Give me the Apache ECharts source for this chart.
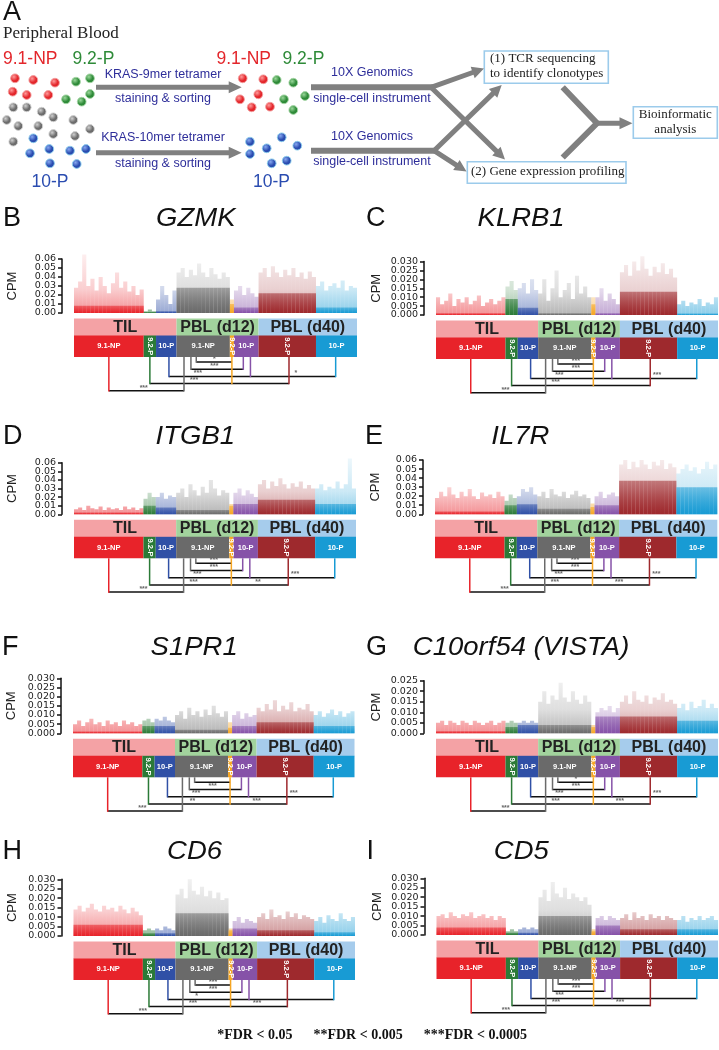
<!DOCTYPE html>
<html><head><meta charset="utf-8">
<script src="https://cdn.jsdelivr.net/npm/echarts@6/dist/echarts.min.js"></script>
<style>html,body{margin:0;padding:0;background:#fff}#c{width:719px;height:1050px}</style>
</head><body><div id="c"></div>
<script>
// ================= DATA =================
const SEGMENTS = ['TIL 9.1-NP','TIL 9.2-P','TIL 10-P','PBL(d12) 9.1-NP','PBL(d12) 9.2-P','PBL(d12) 10-P','PBL(d40) 9.2-P','PBL(d40) 10-P'];
const SEG_SHORT = ['9.1-NP','9.2-P','10-P','9.1-NP','9.2-P','10-P','9.2-P','10-P'];
const GROUP_NAMES = ['TIL','PBL (d12)','PBL (d40)'];
const GENES = ['GZMK','KLRB1','ITGB1','IL7R','S1PR1','C10orf54 (VISTA)','CD6','CD5'];
const PANEL_LETTERS = ['B','C','D','E','F','G','H','I'];
const Y_MAX = [0.06,0.03,0.06,0.06,0.03,0.025,0.03,0.03];
const Y_STEP = [0.01,0.005,0.01,0.01,0.005,0.005,0.005,0.005];
const Y_DEC = [2,3,2,2,3,3,3,3];
const FOOTNOTE = '*FDR < 0.05      **FDR < 0.005      ***FDR < 0.0005';

// per-cell expression (CPM), grouped by segment
const GZMK_CELLS = [
 [0.028,0.035,0.065,0.030,0.038,0.025,0.040,0.030,0.022,0.033,0.045,0.028,0.035,0.024,0.030,0.020,0.026],
 [0.002,0.004,0.002],
 [0.015,0.030,0.020,0.010,0.025],
 [0.045,0.050,0.040,0.048,0.042,0.055,0.045,0.040,0.050,0.043,0.038,0.045,0.040],
 [0.015],
 [0.025,0.030,0.020,0.028,0.022,0.018],
 [0.045,0.050,0.040,0.052,0.045,0.040,0.048,0.042,0.050,0.040,0.045,0.038,0.046,0.040],
 [0.030,0.035,0.025,0.030,0.033,0.028,0.036,0.025,0.030,0.028]];
const GZMK_CORE = [0.008,0.001,0.002,0.028,0.010,0.006,0.022,0.006];

const KLRB1_CELLS = [
 [0.010,0.006,0.008,0.012,0.005,0.009,0.007,0.010,0.006,0.008,0.011,0.005,0.007,0.009,0.006,0.008,0.010],
 [0.016,0.019,0.014],
 [0.015,0.018,0.012,0.020,0.014],
 [0.012,0.020,0.008,0.015,0.025,0.010,0.014,0.018,0.009,0.022,0.012,0.016,0.010],
 [0.010],
 [0.010,0.015,0.008,0.012,0.009,0.006],
 [0.024,0.028,0.022,0.030,0.025,0.033,0.026,0.022,0.027,0.024,0.029,0.023,0.026,0.021],
 [0.006,0.008,0.005,0.007,0.006,0.009,0.005,0.007,0.006,0.010]];
const KLRB1_CORE = [0.001,0.009,0.004,0.001,0.006,0.001,0.013,0.0008];

const ITGB1_CELLS = [
 [0.006,0.008,0.005,0.010,0.007,0.006,0.009,0.005,0.008,0.006,0.007,0.005,0.009,0.006,0.008,0.005,0.007],
 [0.018,0.025,0.020],
 [0.020,0.025,0.018,0.022,0.020],
 [0.025,0.030,0.020,0.035,0.028,0.022,0.032,0.025,0.040,0.030,0.022,0.028,0.025],
 [0.012],
 [0.025,0.030,0.022,0.028,0.024,0.020],
 [0.035,0.040,0.030,0.038,0.033,0.042,0.035,0.030,0.036,0.032,0.038,0.030,0.034,0.030],
 [0.030,0.035,0.028,0.032,0.030,0.038,0.030,0.035,0.065,0.030]];
const ITGB1_CORE = [0.002,0.010,0.008,0.005,0.010,0.012,0.017,0.012];

const IL7R_CELLS = [
 [0.018,0.025,0.020,0.030,0.022,0.018,0.025,0.020,0.028,0.020,0.017,0.024,0.020,0.022,0.018,0.025,0.020],
 [0.015,0.022,0.018],
 [0.020,0.028,0.025,0.030,0.022],
 [0.020,0.025,0.018,0.028,0.022,0.020,0.025,0.018,0.022,0.026,0.020,0.022,0.018],
 [0.012],
 [0.020,0.025,0.018,0.022,0.024,0.020],
 [0.055,0.060,0.050,0.058,0.052,0.060,0.055,0.050,0.058,0.054,0.060,0.050,0.056,0.052],
 [0.045,0.050,0.055,0.048,0.052,0.045,0.050,0.058,0.050,0.055]];
const IL7R_CORE = [0.003,0.010,0.011,0.006,0.008,0.010,0.037,0.030];

const S1PR1_CELLS = [
 [0.005,0.007,0.004,0.006,0.008,0.005,0.006,0.004,0.007,0.005,0.006,0.004,0.007,0.005,0.006,0.004,0.005],
 [0.007,0.008,0.006],
 [0.008,0.007,0.009,0.007,0.006],
 [0.010,0.012,0.008,0.014,0.010,0.012,0.009,0.013,0.010,0.015,0.011,0.009,0.012],
 [0.006],
 [0.010,0.012,0.008,0.011,0.009,0.010],
 [0.014,0.012,0.016,0.013,0.018,0.012,0.015,0.013,0.017,0.012,0.014,0.013,0.016,0.012],
 [0.010,0.012,0.009,0.011,0.013,0.010,0.012,0.009,0.011,0.012]];
const S1PR1_CORE = [0.001,0.004,0.004,0.002,0.003,0.004,0.006,0.004];

const VISTA_CELLS = [
 [0.005,0.006,0.004,0.006,0.005,0.004,0.006,0.005,0.004,0.006,0.005,0.004,0.005,0.006,0.004,0.005,0.006],
 [0.005,0.006,0.005],
 [0.005,0.006,0.005,0.006,0.005],
 [0.015,0.020,0.014,0.018,0.016,0.024,0.017,0.015,0.020,0.016,0.014,0.018,0.015],
 [0.004],
 [0.010,0.012,0.011,0.013,0.010,0.012],
 [0.015,0.018,0.014,0.020,0.016,0.015,0.018,0.014,0.017,0.016,0.019,0.015,0.016,0.014],
 [0.012,0.014,0.011,0.015,0.012,0.013,0.016,0.012,0.014,0.012]];
const VISTA_CORE = [0.001,0.003,0.004,0.004,0.003,0.008,0.008,0.006];

const CD6_CELLS = [
 [0.014,0.016,0.013,0.015,0.017,0.014,0.013,0.016,0.014,0.015,0.013,0.016,0.014,0.012,0.015,0.013,0.011],
 [0.003,0.004,0.003],
 [0.004,0.003,0.005,0.004,0.003],
 [0.022,0.025,0.020,0.030,0.024,0.022,0.026,0.021,0.024,0.020,0.023,0.019,0.020],
 [0.004],
 [0.008,0.010,0.007,0.009,0.008,0.007],
 [0.010,0.012,0.009,0.014,0.010,0.011,0.009,0.013,0.010,0.012,0.009,0.011,0.010,0.009],
 [0.008,0.010,0.007,0.011,0.009,0.008,0.012,0.009,0.008,0.010]];
const CD6_CORE = [0.006,0.0015,0.0015,0.012,0.003,0.004,0.003,0.002];

const CD5_CELLS = [
 [0.010,0.011,0.009,0.012,0.010,0.009,0.011,0.010,0.012,0.009,0.010,0.011,0.009,0.010,0.008,0.010,0.009],
 [0.002,0.003,0.002],
 [0.003,0.004,0.003,0.004,0.003],
 [0.020,0.024,0.018,0.028,0.022,0.020,0.025,0.019,0.022,0.020,0.018,0.020,0.016],
 [0.003],
 [0.009,0.010,0.008,0.010,0.009,0.008],
 [0.009,0.011,0.008,0.012,0.009,0.010,0.008,0.011,0.009,0.010,0.008,0.010,0.009,0.008],
 [0.008,0.010,0.007,0.009,0.008,0.010,0.008,0.009,0.010,0.008]];
const CD5_CORE = [0.004,0.0012,0.0012,0.010,0.002,0.005,0.003,0.003];

// significance labels for the 7 comparisons
const GZMK_SIG  = ['*','***','***','*','***','','***'];
const KLRB1_SIG = ['***','***','***','***','***','','***'];
const ITGB1_SIG = ['***','***','***','***','***','**','***'];
const IL7R_SIG  = ['***','***','***','***','***','***','***'];
const S1PR1_SIG = ['','***','***','***','**','***','***'];
const VISTA_SIG = ['*','***','***','***','***','***','***'];
const CD6_SIG   = ['***','***','*','','***','***','***'];
const CD5_SIG   = ['***','***','***','','***','***','***'];

const ALL_CELLS = [GZMK_CELLS,KLRB1_CELLS,ITGB1_CELLS,IL7R_CELLS,S1PR1_CELLS,VISTA_CELLS,CD6_CELLS,CD5_CELLS];
const ALL_CORE = [GZMK_CORE,KLRB1_CORE,ITGB1_CORE,IL7R_CORE,S1PR1_CORE,VISTA_CORE,CD6_CORE,CD5_CORE];
const ALL_SIG = [GZMK_SIG,KLRB1_SIG,ITGB1_SIG,IL7R_SIG,S1PR1_SIG,VISTA_SIG,CD6_SIG,CD5_SIG];

// ================= STYLE / LAYOUT =================
const SEG_COLORS = ['#E8232A','#2B7A37','#3050A6','#6A6A6A','#F6A623','#8652A8','#9E292D','#189BD4'];
const GROUP_COLORS = ['#F4A2A5','#A2D39D','#A6CCEC'];
const GROUP_SEGS = [[0,2],[3,5],[6,7]];
const BOXES = [
 {l:74,r:357,t:259,b:313},{l:436,r:718,t:261.5,b:315},
 {l:74,r:356,t:462.7,b:514.3},{l:435,r:717.3,t:460,b:514.3},
 {l:73,r:354.5,t:678.3,b:733.3},{l:436,r:718,t:680.7,b:733.3},
 {l:73.5,r:355,t:879.3,b:936},{l:436.5,r:718,t:878.3,b:935}];
const TITLE_Y = [219,219,437,437,648,648,852,852];
// comparison brackets: level, endpoints [segment, fraction], label position
const BRACKETS = [
 {lv:0,a:[3,0.37],b:[4,0.5],lab:[3,0.71]},
 {lv:1,a:[3,0.27],b:[5,0.38],lab:[3,0.71]},
 {lv:2,a:[2,0.63],b:[5,0.67],lab:[3,0.40]},
 {lv:2,a:[5,0.67],b:[7,0.48],lab:[6,0.65]},
 {lv:3,a:[1,0.5],b:[4,0.5],lab:[3,0.33]},
 {lv:3,a:[4,0.5],b:[6,0.53],lab:[5,1.0]},
 {lv:4,a:[0,0.5],b:[3,0.14],lab:[0,1.0]}];

function rgba(hex,a){const n=parseInt(hex.slice(1),16);return 'rgba('+(n>>16)+','+((n>>8)&255)+','+(n&255)+','+a+')';}
function grad(hex,aTop,aBot){return new echarts.graphic.LinearGradient(0,0,0,1,[{offset:0,color:rgba(hex,aTop)},{offset:1,color:rgba(hex,aBot)}]);}
function ggrad(hex,y0,y1){return new echarts.graphic.LinearGradient(0,y0,0,y1,[{offset:0,color:rgba(hex,0.07)},{offset:0.6,color:rgba(hex,0.22)},{offset:1,color:rgba(hex,0.5)}],true);}

const chart = echarts.init(document.getElementById('c'),null,{renderer:'canvas'});
const grids=[],xAxes=[],yAxes=[],series=[];
GENES.forEach((g,i)=>{
  const b=BOXES[i];
  grids.push({left:b.l,top:b.t,width:b.r-b.l,height:b.b-b.t,containLabel:false,outerBoundsMode:'none'});
  const cats=[],spike=[],core=[];
  ALL_CELLS[i].forEach((arr,s)=>arr.forEach(v=>{
    cats.push(String(cats.length));
    spike.push({value:v,itemStyle:{color:ggrad(SEG_COLORS[s],b.t-6,b.b)}});
    core.push({value:ALL_CORE[i][s],itemStyle:{color:grad(SEG_COLORS[s],0.55,1)}});
  }));
  xAxes.push({type:'category',gridIndex:i,data:cats,show:false,boundaryGap:true});
  yAxes.push({type:'value',gridIndex:i,min:0,max:Y_MAX[i],interval:Y_STEP[i],offset:12,
    axisLine:{show:true,lineStyle:{color:'#111',width:1.5}},
    axisTick:{show:true,length:4,lineStyle:{color:'#111',width:1.5}},
    splitLine:{show:false},
    axisLabel:{show:false},
    name:'CPM',nameLocation:'middle',nameGap:i%2===0?43:41,nameRotate:90,
    nameTextStyle:{fontSize:13,color:'#222',fontFamily:'Liberation Sans'}});
  series.push({type:'bar',name:g+' cells',xAxisIndex:i,yAxisIndex:i,data:spike,barCategoryGap:'0%',barGap:'-100%',clip:false,silent:true});
  series.push({type:'bar',name:g+' core',xAxisIndex:i,yAxisIndex:i,data:core,barCategoryGap:'0%',barGap:'-100%',clip:false,silent:true});
});
chart.setOption({animation:false,backgroundColor:'#fff',grid:grids,xAxis:xAxes,yAxis:yAxes,series:series});

// ================= GRAPHICS =================
const E=[];
function txt(x,y,t,font,fill,align,valign,extra){const o={type:'text',x:x,y:y,z:20,style:{text:t,font:font,fill:fill,align:align||'left',verticalAlign:valign||'middle',textAlign:align||'left',textVerticalAlign:valign||'middle'}};if(extra)Object.assign(o,extra);E.push(o);}
function line(x1,y1,x2,y2,c,w){E.push({type:'line',z:15,shape:{x1:x1,y1:y1,x2:x2,y2:y2},style:{stroke:c,lineWidth:w}});}
function rect(x,y,w,h,fill,stroke,lw){E.push({type:'rect',z:10,shape:{x:x,y:y,width:w,height:h},style:{fill:fill,stroke:stroke||null,lineWidth:lw||0}});}
function arrow(x1,y1,x2,y2,shaft,hw,hl,c){const dx=x2-x1,dy=y2-y1,L=Math.hypot(dx,dy),ux=dx/L,uy=dy/L,px=-uy,py=ux,bx=x2-ux*hl,by=y2-uy*hl,s=shaft/2,h=hw/2;
  E.push({type:'polygon',z:12,shape:{points:[[x1+px*s,y1+py*s],[bx+px*s,by+py*s],[bx+px*h,by+py*h],[x2,y2],[bx-px*h,by-py*h],[bx-px*s,by-py*s],[x1-px*s,y1-py*s]]},style:{fill:c}});}

// ---- Panel A schematic ----
const CIRCLE_STYLE = {r:['#E3262B','#FF9A9A','#F3A0A0'],g:['#2E8A38','#9AD89A','#A8D8A8'],k:['#6C6C6C','#CFCFCF','#D5D5D5'],b:['#2A4CB0','#86A8F0','#8FD2EE']};
const A_CIRCLES = [
 [15,78.3,'r'],[33.3,80,'r'],[55,82.7,'r'],[12.7,91.7,'r'],[26.7,95,'r'],[48.3,95,'r'],
 [76,81.7,'g'],[90,78.3,'g'],[90,94,'g'],[66,99.3,'g'],[81.7,101.7,'g'],
 [13.3,107.3,'k'],[26.7,107.3,'k'],[41.7,111.7,'k'],[6.7,120,'k'],[18.3,126,'k'],[38.3,126,'k'],[53.3,117.3,'k'],[73.3,120,'k'],[90,129,'k'],[53.3,134,'k'],[75,136,'k'],[13.3,141.7,'k'],
 [33.3,138.3,'b'],[30,153.3,'b'],[49.3,149,'b'],[70,150.7,'b'],[86,149,'b'],[50,163.3,'b'],[76.7,164,'b'],
 [242.7,78.3,'r'],[263.3,79.3,'r'],[240,99.3,'r'],[258.3,94.3,'r'],[251.7,107.3,'r'],[270,106.7,'r'],
 [276.7,80,'g'],[293.3,82.7,'g'],[305,96,'g'],[284,99.3,'g'],[293.3,110,'g'],
 [250,141.7,'b'],[266.7,148.3,'b'],[281.7,137.3,'b'],[297.3,145.7,'b'],[250,154,'b'],[271.7,163.3,'b'],[286.7,160.7,'b']];
A_CIRCLES.forEach(c=>{const s=CIRCLE_STYLE[c[2]];E.push({type:'circle',z:12,shape:{cx:c[0],cy:c[1],r:4.4},style:{fill:new echarts.graphic.RadialGradient(0.38,0.35,0.75,[{offset:0,color:s[1]},{offset:0.55,color:s[0]},{offset:1,color:s[0]}]),stroke:s[2],lineWidth:0.9}});});
const AR='#808080', NAVY='#2E2E9A';
txt(3,13,'A','27px "Liberation Sans", Arial','#111');
txt(3,33.5,'Peripheral Blood','17px "Liberation Serif", serif','#222');
txt(3,59,'9.1-NP','17.5px "Liberation Sans", Arial','#E3262B');
txt(72.5,59,'9.2-P','17.5px "Liberation Sans", Arial','#2E8A38');
txt(31.5,181.7,'10-P','17.5px "Liberation Sans", Arial','#2A4CB0');
txt(216.5,59,'9.1-NP','17.5px "Liberation Sans", Arial','#E3262B');
txt(282.5,59,'9.2-P','17.5px "Liberation Sans", Arial','#2E8A38');
txt(253,181.7,'10-P','17.5px "Liberation Sans", Arial','#2A4CB0');
arrow(96,87.3,241.7,87.3,5,12,13,AR);
arrow(96,152.7,241.7,152.7,5,12,13,AR);
txt(163,74.5,'KRAS-9mer tetramer','12.5px "Liberation Sans", Arial',NAVY,'center');
txt(163,99,'staining & sorting','12.5px "Liberation Sans", Arial',NAVY,'center');
txt(163,138,'KRAS-10mer tetramer','12.5px "Liberation Sans", Arial',NAVY,'center');
txt(163,163.3,'staining & sorting','12.5px "Liberation Sans", Arial',NAVY,'center');
line(311,87.3,434,87.3,AR,6); line(311,150.7,437,150.7,AR,6);
txt(372,72.5,'10X Genomics','12.5px "Liberation Sans", Arial',NAVY,'center');
txt(372,98.7,'single-cell instrument','12.5px "Liberation Sans", Arial',NAVY,'center');
txt(372,136.7,'10X Genomics','12.5px "Liberation Sans", Arial',NAVY,'center');
txt(372,161.7,'single-cell instrument','12.5px "Liberation Sans", Arial',NAVY,'center');
arrow(431,87.3,484,68.5,5,12,12,AR);
arrow(431,87.3,505,159.5,5,12,12,AR);
arrow(434,150.7,501.7,85,5,12,12,AR);
arrow(434,150.7,466.5,171.5,5,12,12,AR);
E.push({type:'polyline',z:12,shape:{points:[[562.7,87.3],[597,123.3],[562.7,157.5]]},style:{stroke:AR,lineWidth:6,fill:null}});
arrow(594,123.3,632.5,123.3,5,12,13,AR);
rect(484.3,51,124,32.3,'#fff','#9CCBEB',1.6);
rect(467.3,161.7,158.7,21.6,'#fff','#9CCBEB',1.6);
rect(633.3,106.7,84,31.6,'#fff','#9CCBEB',1.6);
txt(490,59,'(1) TCR sequencing','13px "Liberation Serif", serif','#222');
txt(490,74,'to identify clonotypes','13px "Liberation Serif", serif','#222');
txt(471,172,'(2) Gene expression profiling','13px "Liberation Serif", serif','#222');
txt(675.3,115,'Bioinformatic','13px "Liberation Serif", serif','#222','center');
txt(675.3,130,'analysis','13px "Liberation Serif", serif','#222','center');

// ---- Panels B-I headers, labels and brackets ----
GENES.forEach((g,i)=>{
  const b=BOXES[i];
  const p0=chart.convertToPixel({gridIndex:i},[0,0]);
  const p1=chart.convertToPixel({gridIndex:i},[1,0]);
  const bw=p1[0]-p0[0], yBase=p0[1];
  // y tick labels from the axis scale
  const nT=Math.round(Y_MAX[i]/Y_STEP[i]);
  for(let t=0;t<=nT;t++){
    const v=t*Y_STEP[i];
    const py=chart.convertToPixel({yAxisIndex:i},v);
    txt(b.l-12-6,py,v.toFixed(Y_DEC[i]),'9.5px "DejaVu Sans", sans-serif','#222','right');
  }
  const segs=[]; let start=0;
  ALL_CELLS[i].forEach(arr=>{const L=p0[0]-bw/2+start*bw;segs.push([L,L+arr.length*bw]);start+=arr.length;});
  const ax=(sf)=>segs[sf[0]][0]+sf[1]*(segs[sf[0]][1]-segs[sf[0]][0]);
  const cx=(b.l+b.r)/2+2;
  txt(b.l-71+(i%2?1:0),TITLE_Y[i],PANEL_LETTERS[i],'27px "Liberation Sans", Arial','#111');
  txt(cx,TITLE_Y[i],g,'italic 25px "Liberation Sans", Arial','#111','center','middle',{scaleX:1.1,originX:cx,originY:TITLE_Y[i]});
  const bandTop=yBase+5.5, bandH=17, subTop=bandTop+bandH, subH=21.5, subBot=subTop+subH;
  GROUP_SEGS.forEach((gs,k)=>{
    const L=segs[gs[0]][0], R=segs[gs[1]][1];
    rect(L,bandTop,R-L,bandH+0.5,GROUP_COLORS[k]);
    txt((L+R)/2,bandTop+bandH/2+0.5,GROUP_NAMES[k],'bold 16px "Liberation Sans", Arial','#222','center');
  });
  segs.forEach((s,k)=>{
    rect(s[0],subTop,s[1]-s[0],subH,SEG_COLORS[k]);
  });
  segs.forEach((s,k)=>{
    const m=(s[0]+s[1])/2, my=subTop+subH/2;
    if(SEG_SHORT[k]==='9.2-P') txt(m,my,SEG_SHORT[k],'bold 7.5px "Liberation Sans", Arial','#fff','center','middle',{rotation:-Math.PI/2});
    else txt(m,my,SEG_SHORT[k],'bold 7.5px "Liberation Sans", Arial','#fff','center');
  });
  // brackets
  const lvY=lv=>subBot+5+lv*7.2;
  const anchors={};
  BRACKETS.forEach(br=>{[br.a,br.b].forEach(a=>{const key=a.join(',');anchors[key]=Math.max(anchors[key]||0,br.lv);});});
  BRACKETS.forEach((br,k)=>{
    const y=lvY(br.lv);
    line(ax(br.a),y,ax(br.b),y,'#111',1.5);
    if(ALL_SIG[i][k]) txt(ax(br.lab),y-3.2,ALL_SIG[i][k],'bold 7px "Liberation Sans", Arial','#666','center');
  });
  Object.keys(anchors).forEach(key=>{
    const a=key.split(',').map(Number);
    const x=ax(a);
    E.push({type:'line',z:16,shape:{x1:x,y1:subBot,x2:x,y2:lvY(anchors[key])+0.75},style:{stroke:SEG_COLORS[a[0]],lineWidth:1.5}});
  });
});
txt(372,1035,FOOTNOTE,'bold 14px "Liberation Serif", serif','#111','center');
chart.setOption({graphic:{elements:E}});
</script></body></html>
